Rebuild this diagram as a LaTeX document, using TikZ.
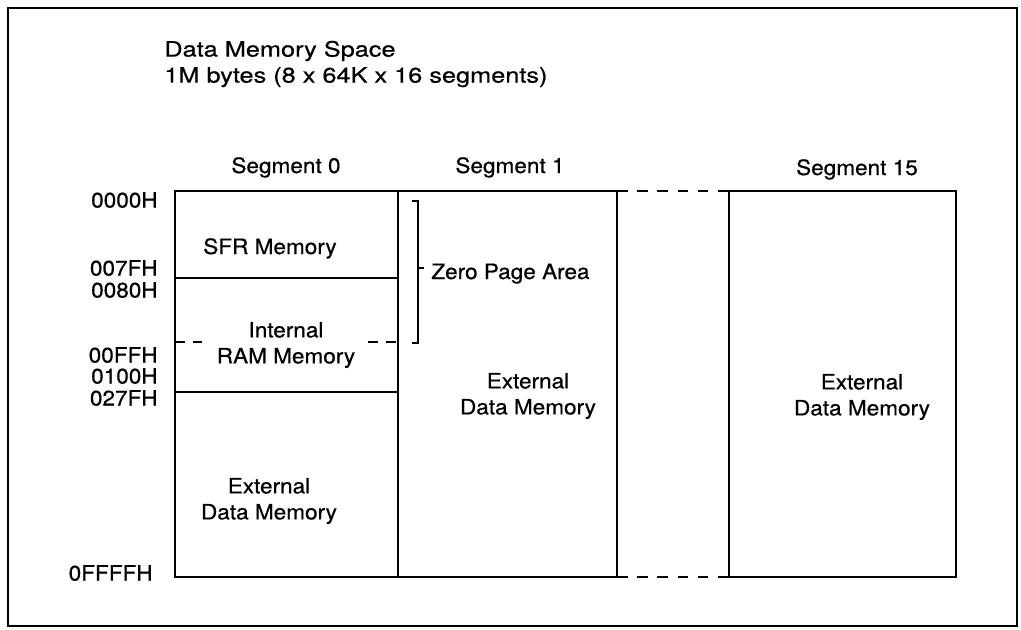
\documentclass[tikz,border=0pt]{standalone}
\usepackage{fontspec}
\setmainfont{TeX Gyre Heros}[FakeStretch=1.07, FakeBold=0.6]
\newfontfamily\titlefont{TeX Gyre Heros}[FakeStretch=1.2, FakeBold=0.6]
\usetikzlibrary{positioning}

\begin{document}
\begin{tikzpicture}[
    x=0.02cm, y=-0.02cm,
    lbl/.style={inner sep=0pt, font=\fontsize{12}{14.8}\selectfont},
    addr/.style={lbl, anchor=east},
    segbox/.style={draw, line width=1.3pt, inner sep=0pt, outer sep=0pt, minimum height=7.72cm},
    sepline/.style={line width=0.7pt},
    gapline/.style={line width=1.3pt, dash pattern=on 6pt off 5.5pt},
    brace/.style={line width=0.7pt}
]
    \useasboundingbox (0,0) rectangle (1021,629);
    \draw[line width=1.2pt] (8,8) rectangle (1017,626);

    % title
    \node[lbl, font=\titlefont\fontsize{12}{14.8}\selectfont, align=left, anchor=west] (title) at (164,64) {Data Memory Space\\1M bytes (8 x 64K x 16 segments)};

    % segments
    \node[segbox, minimum width=4.46cm] (seg0) at (286.5,384) {};
    \node[segbox, minimum width=4.38cm] (seg1) at (507.5,384) {};
    \node[segbox, minimum width=4.54cm] (seg15) at (842.5,384) {};
    \draw[gapline] (seg1.north east) -- (seg15.north west);
    \draw[gapline] (seg1.south east) -- (seg15.south west);

    \node[lbl, anchor=base] (seg0lbl) at (286,173) {Segment 0};
    \node[lbl, anchor=base] (seg1lbl) at (510,173) {Segment 1};
    \node[lbl, anchor=base] (seg15lbl) at (857,175) {Segment 15};

    % segment 0 areas
    \coordinate (sfrend) at (175,278);
    \coordinate (ramend) at (175,392);
    \coordinate (zpend) at (175,342);
    \draw[sepline] (sfrend) -- (sfrend -| seg0.east);
    \draw[sepline] (ramend) -- (ramend -| seg0.east);
    \draw[sepline, dash pattern=on 5.5pt off 4.5pt] (zpend) -- (zpend -| seg0.east);

    \node[lbl, anchor=base] (sfr) at (270,254) {SFR Memory};
    \node[lbl, align=center, fill=white, inner xsep=5pt, inner ysep=1pt] (ram) at (286,345) {Internal\\RAM Memory};
    \node[lbl, align=center] (ext0) at (269,501) {External\\Data Memory};
    \node[lbl, align=center] (ext1) at (528,396) {External\\Data Memory};
    \node[lbl, align=center] (ext15) at (862,397) {External\\Data Memory};

    % zero page bracket
    \coordinate (zptop) at (412,201);
    \coordinate (zpbot) at (412,343);
    \coordinate (zpmid) at (418,268);
    \draw[brace] (zptop) -- ++(6,0) |- (zpbot);
    \draw[brace] (zpmid) -- ++(6,0);
    \node[lbl, anchor=base west] (zpa) at (431,279) {Zero Page Area};

    % addresses
    \node[addr] (a0000) at (158,200) {0000H};
    \node[addr] (a007f) at (158,268) {007FH};
    \node[addr] (a0080) at (158,290) {0080H};
    \node[addr] (a00ff) at (158,355) {00FFH};
    \node[addr] (a0100) at (158,376) {0100H};
    \node[addr] (a027f) at (158,398) {027FH};
    \node[addr] (affff) at (153,573) {0FFFFH};
\end{tikzpicture}
\end{document}
